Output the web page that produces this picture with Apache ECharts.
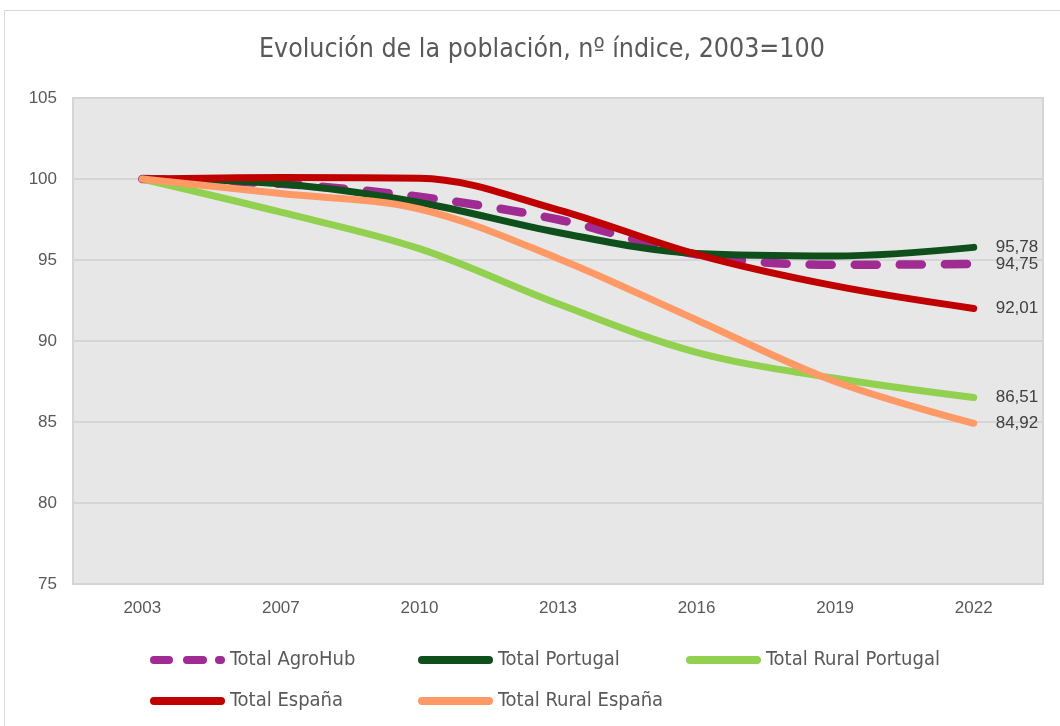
<!doctype html>
<html>
<head>
<meta charset="utf-8">
<style>
  html, body { margin:0; padding:0; background:#fff; }
  #main { width:1060px; height:726px; }
</style>
</head>
<body>
<div id="main"></div>
<script src="https://cdn.jsdelivr.net/npm/echarts@6/dist/echarts.min.js"></script>
<script>
// años
var years = ['2003', '2007', '2010', '2013', '2016', '2019', '2022'];

// series, nº índice 2003=100
var agroHub      = [100, 99.7, 98.9, 97.5, 95.35, 94.7, 94.75];
var portugal     = [100, 99.7, 98.55, 96.7, 95.4, 95.25, 95.78];
var ruralPortugal= [100, 97.95, 95.7, 92.3, 89.3, 87.7, 86.51];
var espana       = [100, 100.1, 100.05, 98.1, 95.35, 93.4, 92.01];
var ruralEspana  = [100, 99.1, 98.15, 95.1, 91.3, 87.5, 84.92];

var yTicks = [75, 80, 85, 90, 95, 100, 105];

var fontNarrow = '"Liberation Sans Narrow", "DejaVu Sans Condensed", "Liberation Sans", sans-serif';
var fontReg = '"Liberation Sans", Arial, sans-serif';

// iconos de la leyenda (75x8)
var iconSolid = 'path://M4,0 L71,0 A4,4 0 0 1 71,8 L4,8 A4,4 0 0 1 4,0 Z';
var iconDash = 'path://M4,0 L19,0 A4,4 0 0 1 19,8 L4,8 A4,4 0 0 1 4,0 Z' +
  ' M37,0 L53,0 A4,4 0 0 1 53,8 L37,8 A4,4 0 0 1 37,0 Z' +
  ' M69,0 L71,0 A4,4 0 0 1 71,8 L69,8 A4,4 0 0 1 69,0 Z';

function mkSeries(name, data, color, dashed) {
  return {
    name: name,
    type: 'line',
    data: data,
    smooth: 0.35,
    symbol: 'none',
    lineStyle: {
      color: color,
      width: dashed ? 8.5 : 7,
      type: dashed ? [22, 23] : 'solid',
      cap: 'round'
    },
    itemStyle: { color: color },
    endLabel: {
      show: true,
      distance: 22,
      color: '#404040',
      fontSize: 17,
      fontFamily: fontReg,
      formatter: function (p) { return p.value.toFixed(2).replace('.', ','); }
    }
  };
}

var legendText = { color: '#595959', fontSize: 20, fontFamily: fontNarrow };
function mkLegend(name, icon, left, top) {
  return {
    data: [{ name: name, icon: icon }],
    left: left,
    top: top,
    itemWidth: 75,
    itemHeight: 8,
    textStyle: legendText,
    selectedMode: false
  };
}

var myChart = echarts.init(document.getElementById('main'));
var option = {
  backgroundColor: '#fff',
  animation: false,
  title: {
    text: 'Evolución de la población, nº índice, 2003=100',
    left: 254,
    top: 32,
    textStyle: { color: '#595959', fontSize: 26.5, fontWeight: 'normal', fontFamily: fontNarrow }
  },
  graphic: [{
    type: 'rect',
    shape: { x: 4.5, y: 10.5, width: 1060, height: 720 },
    style: { fill: 'none', stroke: '#d9d9d9', lineWidth: 1 },
    silent: true
  }],
  grid: {
    left: 73, right: 17, top: 98, bottom: 142,
    show: true,
    backgroundColor: '#e7e7e7',
    borderColor: '#d5d5d5',
    borderWidth: 2
  },
  legend: [
    mkLegend('Total AgroHub', iconDash, 145, 645),
    mkLegend('Total Portugal', iconSolid, 413, 645),
    mkLegend('Total Rural Portugal', iconSolid, 681, 645),
    mkLegend('Total España', iconSolid, 145, 686),
    mkLegend('Total Rural España', iconSolid, 413, 686)
  ],
  xAxis: {
    type: 'category',
    data: years,
    boundaryGap: true,
    axisLine: { show: false },
    axisTick: { show: false },
    axisLabel: { color: '#595959', fontSize: 17, fontFamily: fontReg, margin: 16 }
  },
  yAxis: {
    type: 'value',
    min: yTicks[0],
    max: yTicks[yTicks.length - 1],
    interval: 5,
    axisLine: { show: false },
    axisTick: { show: false },
    axisLabel: { color: '#595959', fontSize: 17, fontFamily: fontReg, margin: 16 },
    splitLine: { show: true, lineStyle: { color: '#d5d5d5', width: 2 } }
  },
  series: [
    mkSeries('Total AgroHub', agroHub, '#a02b93', true),
    mkSeries('Total Portugal', portugal, '#0f4f1c', false),
    mkSeries('Total Rural Portugal', ruralPortugal, '#92d050', false),
    mkSeries('Total España', espana, '#c00000', false),
    mkSeries('Total Rural España', ruralEspana, '#ff9966', false)
  ]
};
myChart.setOption(option);
</script>
</body>
</html>
